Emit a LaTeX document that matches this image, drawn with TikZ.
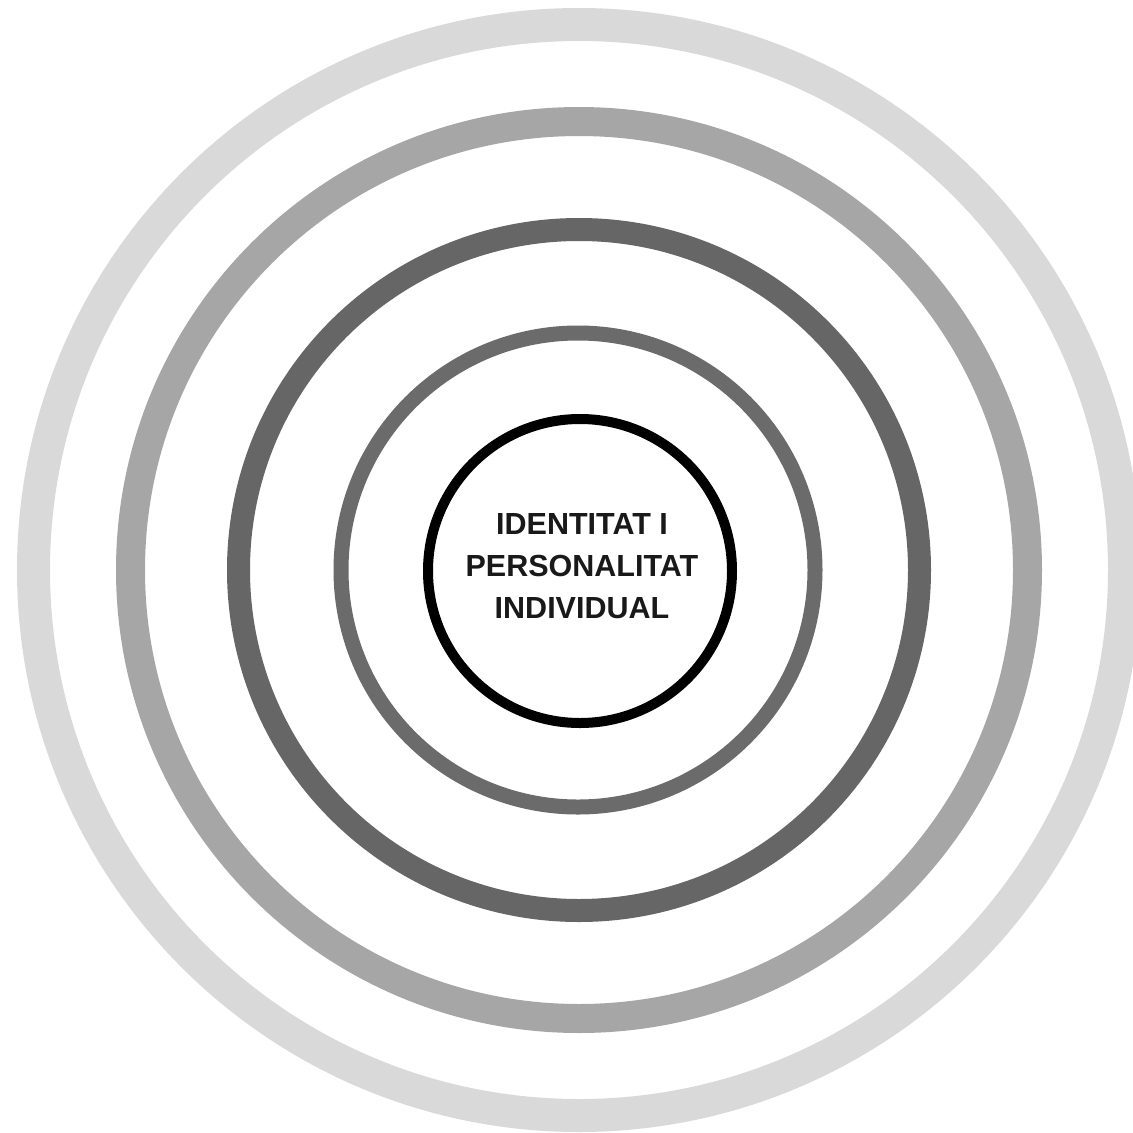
\documentclass[tikz,border=0pt]{standalone}
\usepackage{fontspec}
\setmainfont{Liberation Sans}
\definecolor{ringA}{HTML}{D9D9D9}
\definecolor{ringB}{HTML}{A6A6A6}
\definecolor{ringC}{HTML}{666666}
\definecolor{ringD}{HTML}{6B6B6B}
\begin{document}
\begin{tikzpicture}[x=1pt,y=-1pt,
  ring/.style={draw=#1, fill=none},
  labeltext/.style={font=\fontsize{30.5}{42}\selectfont\bfseries, align=center, text=black!90, inner sep=0pt}]
\useasboundingbox (0,0) rectangle (1133,1133);
\fill[white] (0,0) rectangle (1133,1133);
\clip (0,0) rectangle (1133,1133);
\coordinate (c) at (579,570);
\draw[ring=ringA, line width=33pt] (c) circle[radius=545.5];
\draw[ring=ringB, line width=29pt] (c) circle[radius=448.5];
\draw[ring=ringC, line width=23pt] (c) circle[radius=340.5];
\draw[ring=ringD, line width=15pt] (578,570) circle[radius=237];
\node[circle, draw=black, line width=10pt, minimum size=304pt, inner sep=0pt] (core) at (580,571) {};
\node[labeltext] (label) at (582,566) {IDENTITAT I\\PERSONALITAT\\INDIVIDUAL};
\end{tikzpicture}
\end{document}
